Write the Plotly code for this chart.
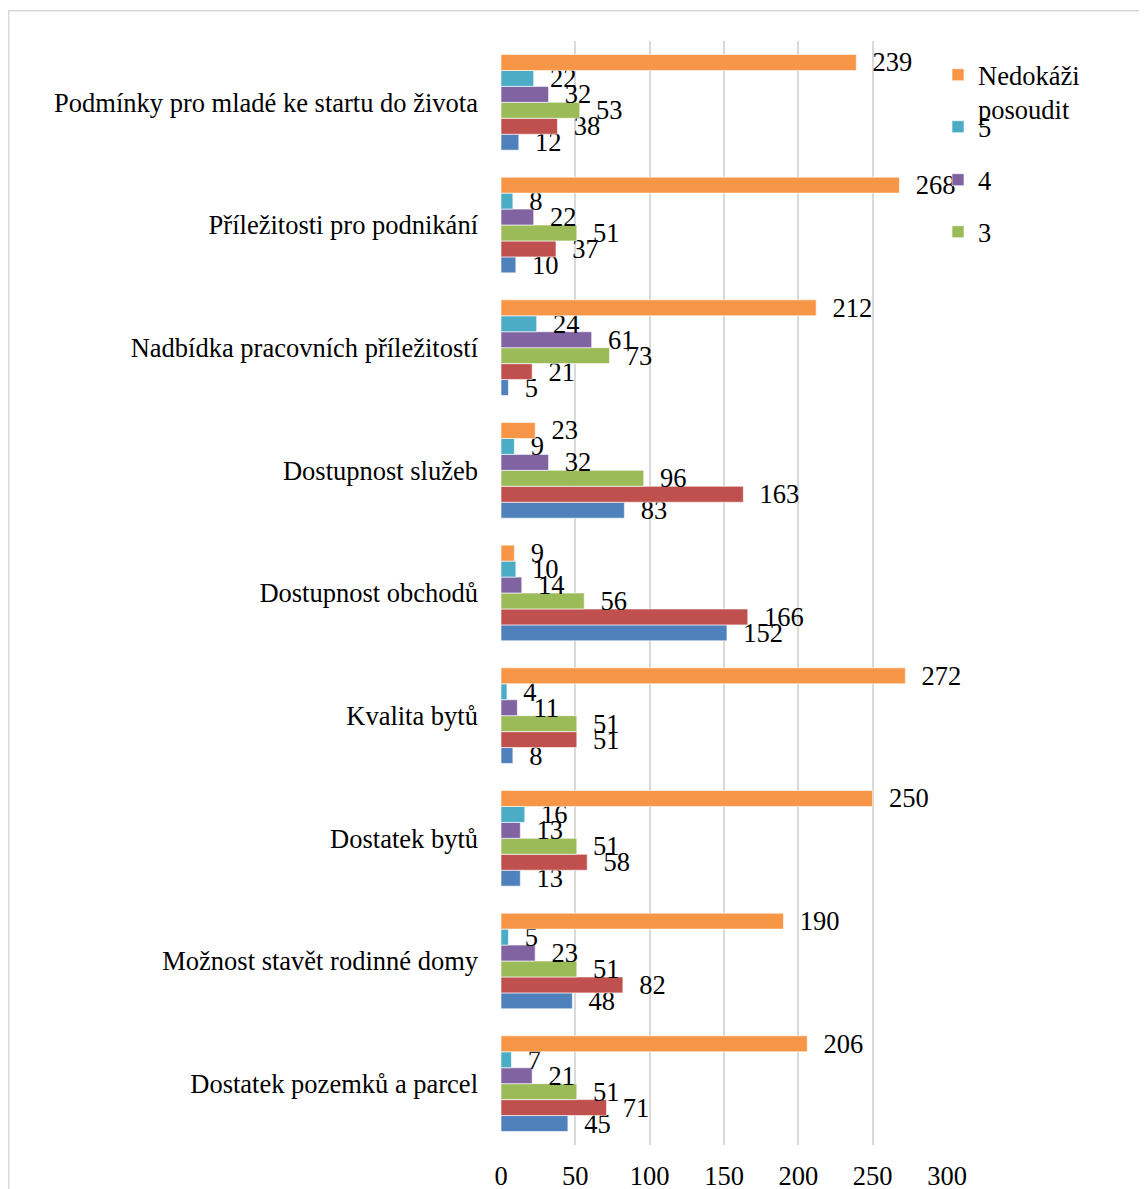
import plotly.graph_objects as go

categories = [
    "Dostatek pozemků a parcel",
    "Možnost stavět rodinné domy",
    "Dostatek bytů",
    "Kvalita bytů",
    "Dostupnost obchodů",
    "Dostupnost služeb",
    "Nadbídka pracovních příležitostí",
    "Příležitosti pro podnikání",
    "Podmínky pro mladé ke startu do života",
]

s1 = [45, 48, 13, 8, 152, 83, 5, 10, 12]
s2 = [71, 82, 58, 51, 166, 163, 21, 37, 38]
s3 = [51, 51, 51, 51, 56, 96, 73, 51, 53]
s4 = [21, 23, 13, 11, 14, 32, 61, 22, 32]
s5 = [7, 5, 16, 4, 10, 9, 24, 8, 22]
s_n = [206, 190, 250, 272, 9, 23, 212, 268, 239]

series_names = ["1", "2", "3", "4", "5", "Nedokáži<br>posoudit"]
series_values = [s1, s2, s3, s4, s5, s_n]
colors = ["#4F81BD", "#C0504D", "#9BBB59", "#8064A2", "#4BACC6", "#F79646"]
legend_ids = [None, None, "legend4", "legend3", "legend2", "legend"]

FONT = "Liberation Serif, Times New Roman, serif"
FS = 26.5

fig = go.Figure()
for name, vals, col, lg in zip(series_names, series_values, colors, legend_ids):
    fig.add_trace(go.Bar(
        y=categories, x=vals, orientation="h", name=name,
        marker=dict(color=col, line=dict(color="rgba(255,255,255,0.6)", width=1)),
        text=vals, texttemplate="\u00a0\u00a0%{x}", textposition="outside",
        textfont=dict(family=FONT, size=FS, color="#000000"),
        constraintext="none", cliponaxis=False,
        showlegend=lg is not None,
        legend=lg if lg else "legend",
    ))

OFF = 8  # default body margin of the html page
W, H = 1147 - OFF, 1189 - OFF
# plot area in page pixels
PL, PR, PT, PB = 501, 947, 41, 1145
L, R, T, B = PL - OFF, W - (PR - OFF), PT - OFF, H - (PB - OFF)
pw, ph = W - L - R, H - T - B

def px_x(p):  # page pixel -> paper
    return (p - OFF - L) / pw

def px_y(p):
    return (H - B - (p - OFF)) / ph

leg_common = dict(font=dict(family=FONT, size=FS, color="#000000"),
                  bgcolor="rgba(0,0,0,0)", itemwidth=30, valign="top",
                  x=px_x(938), xanchor="left", yanchor="top")

fig.update_layout(
    width=W, height=H,
    margin=dict(l=L, r=R, t=T, b=B, autoexpand=False),
    paper_bgcolor="white", plot_bgcolor="white",
    barmode="group", bargap=0.22, bargroupgap=0,
    font=dict(family=FONT, size=FS, color="#000000"),
    xaxis=dict(range=[0, 300], dtick=50, showgrid=True, gridcolor="#d9d9d9", gridwidth=1.5,
               zeroline=False, showline=False, ticks="", ticklabelstandoff=12,
               automargin=False,
               tickfont=dict(family=FONT, size=FS, color="#000000")),
    yaxis=dict(showgrid=False, ticks="", showline=False, ticklabelstandoff=22,
               automargin=False,
               tickfont=dict(family=FONT, size=FS, color="#000000")),
    legend=dict(**leg_common, y=px_y(51)),
    legend2=dict(**leg_common, y=px_y(103)),
    legend3=dict(**leg_common, y=px_y(156)),
    legend4=dict(**leg_common, y=px_y(208)),
    shapes=[dict(type="rect", xref="paper", yref="paper",
                 x0=px_x(8.75), x1=px_x(1200), y0=px_y(1250), y1=px_y(10.75),
                 line=dict(color="#d9d9d9", width=1.5), layer="below")],
)

fig.write_html("out.html")
